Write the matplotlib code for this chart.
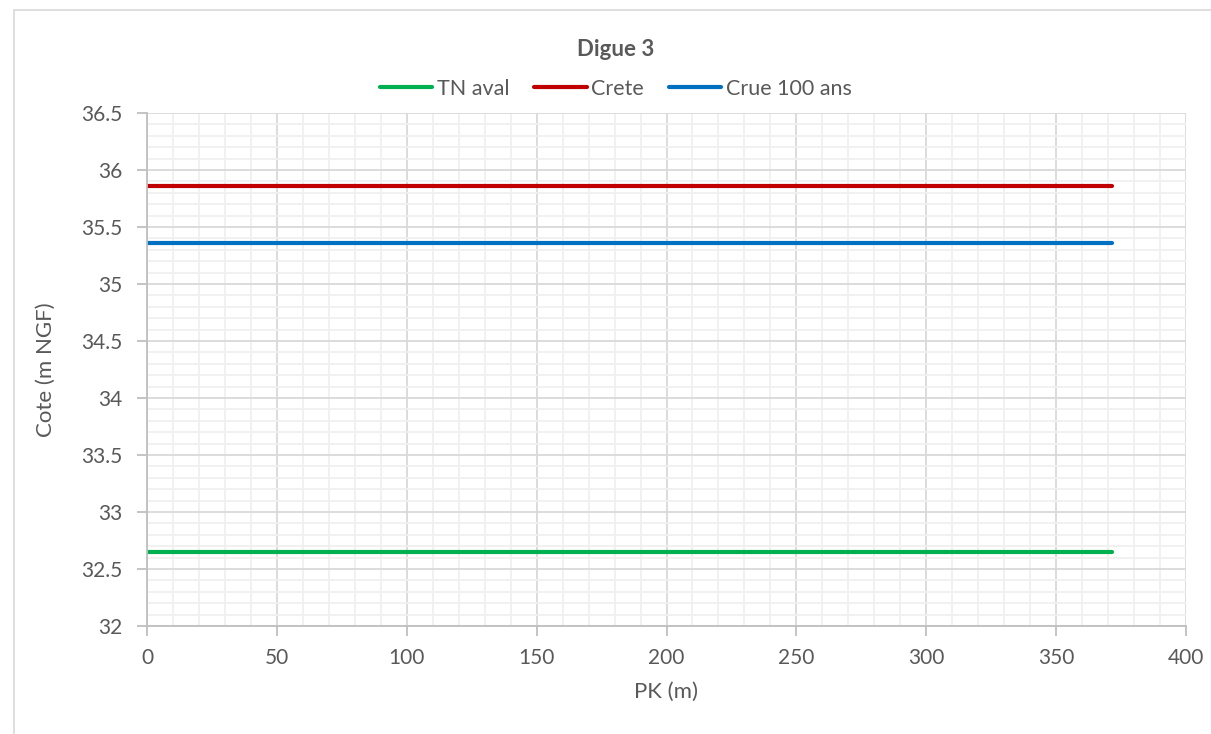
import matplotlib
matplotlib.use("Agg")
import matplotlib.pyplot as plt
from matplotlib.patches import Rectangle
from matplotlib.ticker import MultipleLocator

# Profil en long de la digue 3
pk = [0, 371.5]
tn_aval = [32.65, 32.65]
crete = [35.86, 35.86]
crue_100 = [35.36, 35.36]

series = [
    ("TN aval", tn_aval, "#00b050"),
    ("Crete", crete, "#c00000"),
    ("Crue 100 ans", crue_100, "#0070c0"),
]

plt.rcParams["font.family"] = ["Lato", "DejaVu Sans"]
text_col = "#595959"

fig = plt.figure(figsize=(12.11, 7.34), dpi=100)
fig.patch.set_facecolor("white")

# chart area border (left / top visible)
fig.patches.append(Rectangle((14 / 1211, -0.1), 1.2, 0.1 + (734 - 10) / 734,
                             transform=fig.transFigure, fill=False,
                             edgecolor="#d9d9d9", linewidth=1.2))

ax = fig.add_axes([147 / 1211, 1 - 626 / 734, (1186 - 147) / 1211, (626 - 113) / 734])

for name, values, color in series:
    ax.plot(pk, values, color=color, linewidth=3, label=name, solid_capstyle="round")

ax.set_xlim(0, 400)
ax.set_ylim(32, 36.5)
ax.xaxis.set_major_locator(MultipleLocator(50))
ax.xaxis.set_minor_locator(MultipleLocator(10))
ax.yaxis.set_major_locator(MultipleLocator(0.5))
ax.yaxis.set_minor_locator(MultipleLocator(0.1))
ax.yaxis.set_major_formatter(plt.FuncFormatter(lambda v, p: f"{v:g}"))

ax.grid(which="major", color="#d9d9d9", linewidth=1.3)
ax.grid(which="minor", color="#f0f0f0", linewidth=1.3)
ax.set_axisbelow(True)

for side in ["top", "right"]:
    ax.spines[side].set_visible(False)
for side in ["left", "bottom"]:
    ax.spines[side].set_color("#bfbfbf")
    ax.spines[side].set_linewidth(1.3)

ax.tick_params(which="major", length=7, width=1.3, color="#bfbfbf",
               labelsize=15, labelcolor=text_col)
ax.tick_params(axis="x", which="major", pad=9)
ax.tick_params(axis="y", which="major", pad=11)
ax.tick_params(which="minor", length=0)

ax.set_xlabel("PK (m)", fontsize=16, color=text_col, labelpad=10)
ax.set_ylabel("Cote (m NGF)", fontsize=16, color=text_col, labelpad=18)

fig.text(616 / 1211, 1 - 49 / 734, "Digue 3", ha="center", va="center",
         fontsize=16, fontweight="bold", color=text_col)

leg = ax.legend(loc="center", bbox_to_anchor=(0.451, 1.047), ncol=3, frameon=False,
                fontsize=15.5, handlelength=2.45, handletextpad=0.2, columnspacing=1.15,
                labelcolor=text_col)

fig.savefig("out.png", dpi=100, facecolor="white")
